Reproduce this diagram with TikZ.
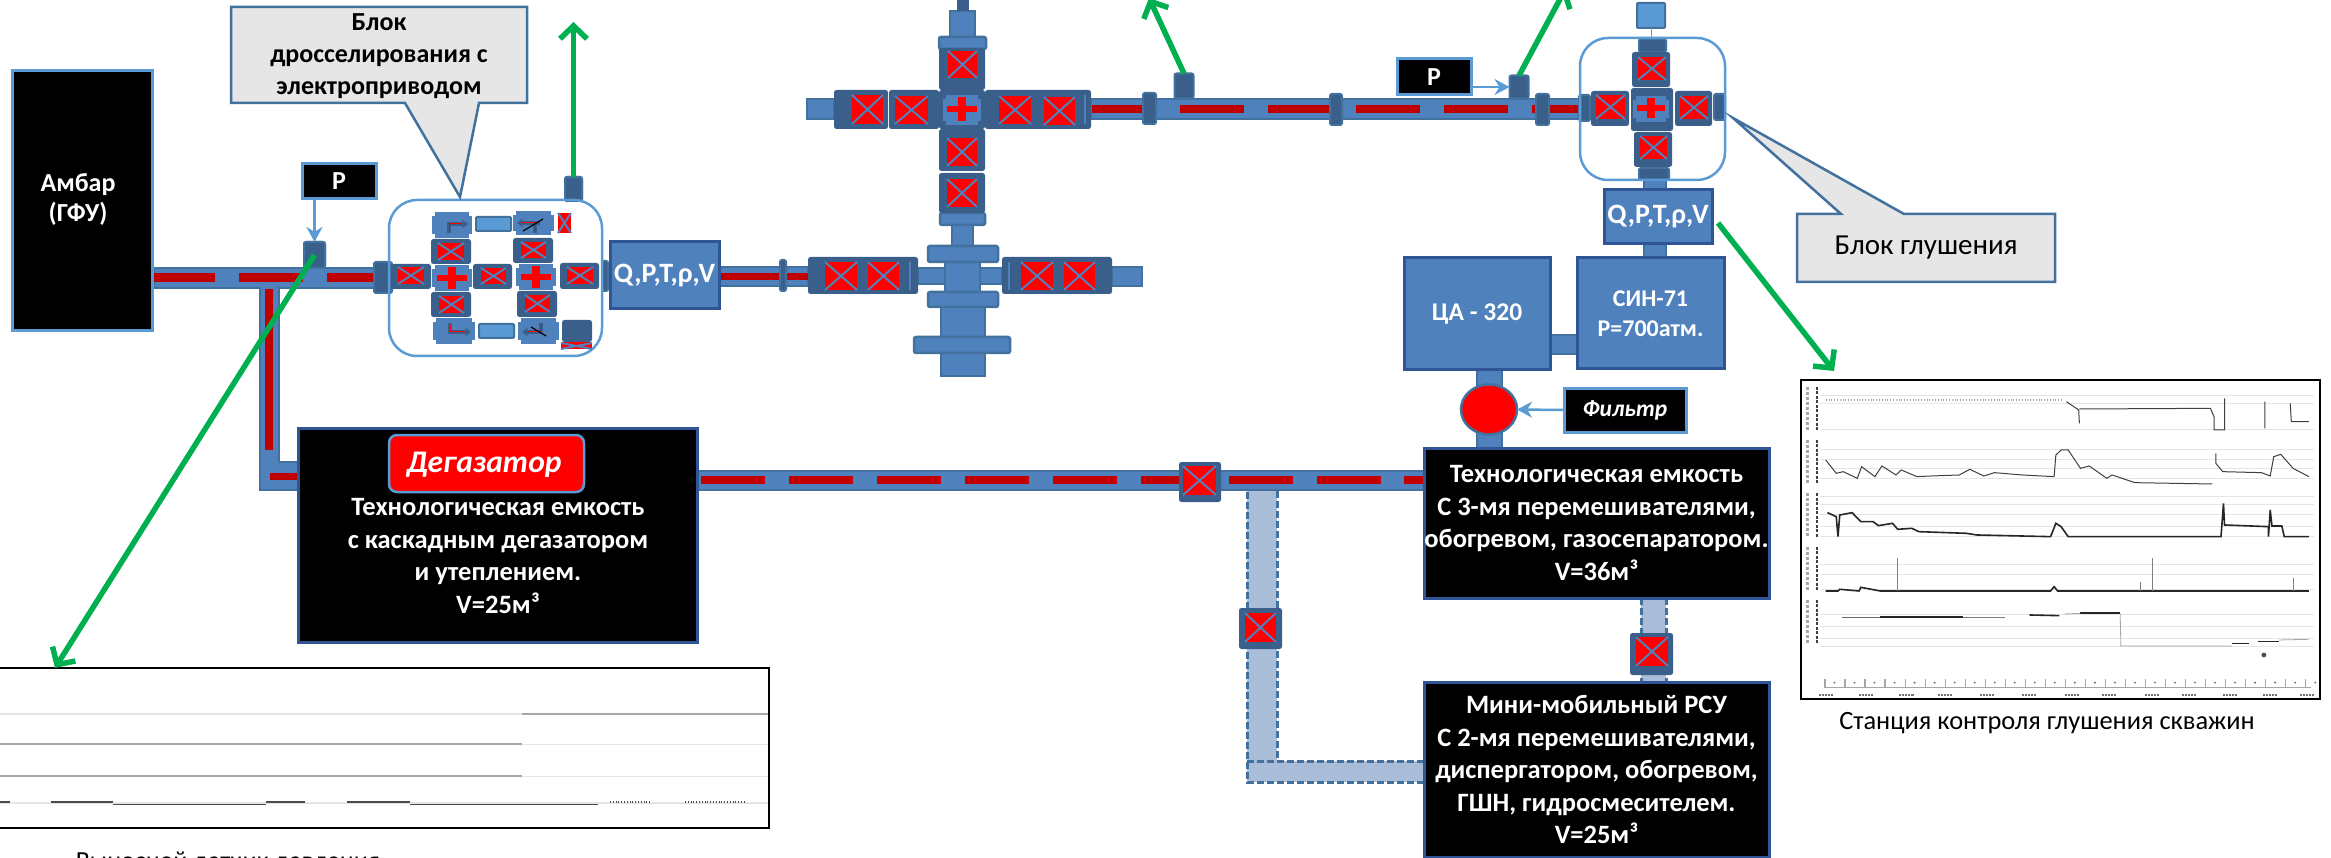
\documentclass[tikz,border=0pt]{standalone}
\usepackage{fontspec}
\usepackage{tikz}
\usetikzlibrary{arrows.meta}
\setmainfont{Carlito}

\definecolor{pipeblue}{HTML}{4F81BD}
\definecolor{pipeedge}{HTML}{41719C}
\definecolor{valvedark}{HTML}{3A5F8B}
\definecolor{lightedge}{HTML}{5B9BD5}
\definecolor{boxedge}{HTML}{2F5597}
\definecolor{darkred}{HTML}{C00000}
\definecolor{paleblue}{HTML}{A9BCD8}
\definecolor{arrowgreen}{HTML}{00B050}
\definecolor{calloutgray}{HTML}{E6E6E6}

\tikzset{
  every node/.style={inner sep=0pt,outer sep=0pt},
  pipe/.style={fill=pipeblue,draw=pipeedge,line width=2.5pt},
  palepipe/.style={fill=paleblue,draw=none},
  dashedge/.style={draw=pipeedge,line width=3pt,dash pattern=on 7pt off 3pt},
  dashline/.style={fill=darkred,draw=none},
  flange/.style={fill=valvedark,draw=pipeedge,line width=2pt,rounded corners=2pt},
  valvebody/.style={fill=valvedark,rounded corners=2.5pt},
  valvex/.style={draw=pipeblue,line width=2pt},
  lightblock/.style={fill=pipeblue},
  plain/.style={fill=lightedge,draw=pipeedge,line width=2pt,rounded corners=1pt},
  blockline/.style={draw=valvedark,line width=4pt},
  blockred/.style={draw=red,line width=1pt},
  slash/.style={draw=black,line width=1.2pt},
  unit/.style={rounded corners=28pt,draw=lightedge,line width=2.5pt},
  blackbox/.style={fill=black,draw=boxedge,line width=3pt,text=white,align=center,
    font=\bfseries\fontsize{26.5}{32.5}\selectfont},
  tagbox/.style={fill=black,draw=lightedge,line width=3pt,text=white,align=center,
    font=\bfseries\fontsize{26}{30}\selectfont},
  bluebox/.style={fill=pipeblue,draw=boxedge,line width=3pt,text=white,align=center,
    font=\bfseries\fontsize{28}{30}\selectfont},
  callout/.style={fill=calloutgray,draw=pipeedge,line width=2.5pt},
  green arrow/.style={draw=arrowgreen,line width=5.5pt,
    -{Straight Barb[length=13pt,width=27pt,line width=5.5pt]}},
  tag arrow/.style={draw=lightedge,line width=2.5pt,
    -{Stealth[length=15pt,width=16pt]}},
  plate/.style={fill=white,draw=black,line width=2pt},
  gridline/.style={draw=black!10,line width=1pt},
  trace/.style={draw=black!75,line width=1pt},
  heavy/.style={draw=black!85,line width=1.6pt},
  faint/.style={draw=black!35,line width=0.8pt}
}

\begin{document}
\begin{tikzpicture}[x=1pt,y=-1pt]
  \useasboundingbox (0,0) rectangle (2331,858);

  % Pipes
  \draw[pipe] (154,268) rectangle (375,288);
  \draw[pipe] (260,288) -- (260,490) -- (298,490) -- (298,462) -- (279,462) -- (279,288);
  \fill[pipeblue] (261,285) rectangle (278,289);
  \fill[pipeblue] (261,289) -- (261,489) -- (298,489) -- (298,463) -- (278,463) -- (278,289) -- cycle;
  \draw[pipe] (719,267) rectangle (808,286);
  \draw[pipe] (918,268) rectangle (1002,284);
  \draw[pipe] (1112,267) rectangle (1142,286);
  \draw[pipe] (1091,99) rectangle (1585,119);
  \draw[pipe] (807,99) rectangle (834,119);
  \draw[pipe] (697,471) rectangle (1424,490);
  \foreach \xa/\ya/\xb/\yb in {1644/180/1666/190,1644/244/1666/258,1550/335/1577/354,
      1477/370/1502/448,952/225/973/250,950/11/975/37,941/307/985/337,941/353/985/376,945/262/980/292} {
    \draw[pipe] (\xa,\ya) rectangle (\xb,\yb);
  }

  % Dashed pipes
  \fill[palepipe] (1247,491) rectangle (1277,782);
  \fill[palepipe] (1247,761) rectangle (1424,782);
  \fill[palepipe] (1641,598) rectangle (1666,682);
  \draw[dashedge] (1277,491) -- (1277,761) -- (1424,761);
  \draw[dashedge] (1424,782) -- (1247,782) -- (1247,491);
  \draw[dashedge] (1247,761) -- (1277,761);
  \draw[dashedge] (1641,598) -- (1641,682);
  \draw[dashedge] (1666,598) -- (1666,682);

  % Red dashes
  \foreach \xa/\xb in {152/215,239/303,327/374} {
    \fill[dashline] (\xa,273) rectangle (\xb,282);
  }
  \fill[dashline] (265,289) rectangle (273,450);
  \fill[dashline] (270,473) rectangle (298,480);
  \fill[dashline] (719,273) rectangle (780,280);
  \fill[dashline] (783,273) rectangle (808,280);
  \foreach \xa/\xb in {1092/1156,1180/1244,1268/1332,1356/1420,1444/1508,1532/1587} {
    \fill[dashline] (\xa,105) rectangle (\xb,113);
  }
  \foreach \xa in {701,789,877,965,1053,1141,1229,1317} {
    \fill[dashline] (\xa,476) rectangle (\xa+64,484);
  }
  \fill[dashline] (1404,476) rectangle (1424,484);

  % Flanges and stubs
  \foreach \xa/\ya/\xb/\yb in {374/262/392/293,602/261/608/291,780/260/786/291,
      1143/93/1156/124,1330/94/1342/125,1536/94/1549/125,1579/95/1590/121,1714/94/1725/120,
      1639/39/1666/52,1639/168/1669/180,304/242/325/268,565/177/582/201} {
    \draw[flange] (\xa,\ya) rectangle (\xb,\yb);
  }
  \foreach \xa/\ya/\xb/\yb in {928/246/998/262,928/292/998/307,914/337/1010/353,
      940/213/985/225,939/37/986/49} {
    \draw[pipe,rounded corners=2pt] (\xa,\ya) rectangle (\xb,\yb);
  }
  \fill[valvedark] (957,0) rectangle (969,11);
  \node[flange,minimum width=19pt,minimum height=25pt] (stuba) at (1184,86) {};
  \node[flange,minimum width=19pt,minimum height=23pt] (stubb) at (1519,87) {};
  \node[flange,minimum width=21pt,minimum height=26pt] (stubc) at (314.5,255) {};
  \node[flange,minimum width=17pt,minimum height=24pt] (stubd) at (573.5,189) {};

  % Valve units
  \draw[unit] (389,200) rectangle (602,356);
  \draw[unit] (1580,38) rectangle (1725,180);

  % Valves
  \foreach \xa/\ya/\xb/\yb/\xc/\yc/\xd/\yd in {
      391/264/431/289/398/267/424/284, 431/239/471/264/438/243/464/260,
      431/292/471/317/439/296/464/313, 473/264/512/289/481/268/506/284,
      513/238/553/263/521/242/546/258, 517/291/557/317/525/295/550/312,
      560/263/599/289/567/267/593/284,
      939/173/985/213/947/179/977/207, 939/129/985/171/947/138/977/166,
      939/48/985/90/948/51/977/78,
      1632/52/1670/87/1638/57/1666/80, 1591/91/1629/126/1596/95/1625/119,
      1675/91/1712/126/1680/96/1708/119, 1634/132/1672/167/1640/136/1667/159,
      1179/462/1221/502/1183/466/1216/495, 1239/608/1282/649/1245/613/1276/642,
      1630/633/1673/675/1636/637/1668/666} {
    \fill[valvebody] (\xa,\ya) rectangle (\xb,\yb);
    \fill[red] (\xc,\yc) rectangle (\xd,\yd);
    \draw[valvex] (\xc,\yc) -- (\xd,\yd) (\xc,\yd) -- (\xd,\yc);
  }

  % Double valves
  \foreach \xa/\ya/\xb/\yb in {808/257/918/294,1002/257/1112/294,834/90/888/129,889/90/939/129,985/90/1091/129} {
    \fill[valvebody] (\xa,\ya) rectangle (\xb,\yb);
  }
  \foreach \xc/\yc/\xd/\yd in {825/262/857/290,868/262/899/290,1021/262/1053/290,1064/262/1095/290,
      852/95/883/124,895/96/928/124,999/96/1031/124,1044/97/1075/125} {
    \fill[red] (\xc,\yc) rectangle (\xd,\yd);
    \draw[valvex] (\xc,\yc) -- (\xd,\yd) (\xc,\yd) -- (\xd,\yc);
  }
  \draw[valvex,line width=1.5pt] (910,262) -- (910,290);
  \draw[valvex,line width=1.5pt] (1009,262) -- (1009,290);
  \draw[valvex,line width=1.5pt] (1085,95) -- (1085,124);
  \fill[red] (558,213) rectangle (571,233);
  \draw[valvex] (558,213) -- (571,233) (558,233) -- (571,213);
  \fill[valvebody] (562,320) rectangle (592,342);
  \fill[red] (561,342) rectangle (592,349);
  \draw[valvex] (561,343) -- (592,349) (561,349) -- (592,343);

  % Crosses
  \fill[valvebody] (939,90) rectangle (985,129);
  \fill[valvebody] (1631,88) rectangle (1673,131);
  \foreach \xa/\ya/\xb/\yb in {432/265/472/291,516/264/556/290,943/95/981/125,1633/96/1669/122,
      432/212/472/238,513/211/554/235,433/318/475/344,518/318/559/344} {
    \fill[lightblock] (\xa+3,\ya) rectangle (\xb-3,\yb);
    \fill[lightblock] (\xa,\ya+4) rectangle (\xb,\yb-4);
  }
  \foreach \xm/\ym/\w/\h in {452/278/15/11,536/277/15/11,962/109/15/12,1651/108/14/10} {
    \fill[red] (\xm-\w,\ym-3) rectangle (\xm+\w,\ym+3);
    \fill[red] (\xm-4,\ym-\h) rectangle (\xm+4,\ym+\h);
  }

  % Corner pieces
  \draw[blockline,-{Stealth[length=6pt,width=9pt]}] (449,233) -- (449,224) -- (468,224);
  \draw[blockred] (449,231) -- (449,224) -- (462,224);
  \draw[blockline,-{Stealth[length=6pt,width=9pt]}] (540,223) -- (517,223);
  \draw[blockline] (535,223) -- (535,233);
  \draw[blockred] (536,223) -- (522,223) (535,223) -- (535,232);
  \draw[slash] (523,231) -- (543,219);
  \draw[blockline,-{Stealth[length=6pt,width=9pt]}] (450,323) -- (450,332) -- (471,332);
  \draw[blockred] (450,325) -- (450,332) -- (465,332);
  \draw[blockline,-{Stealth[length=6pt,width=9pt]}] (541,332) -- (522,332);
  \draw[blockline] (541,332) -- (541,323);
  \draw[blockred] (541,332) -- (527,332) (541,332) -- (541,324);
  \draw[slash] (531,327) -- (546,336);
  \foreach \xa/\ya/\xb/\yb in {476/217/511/231,479/324/514/338,1637/3/1665/28} {
    \draw[plain] (\xa,\ya) rectangle (\xb,\yb);
  }
  \draw[lightedge,line width=1pt] (1651,28) -- (1651,39);

  % Filter
  \node[circle,fill=red,draw=pipeedge,line width=2.5pt,minimum size=50pt,xscale=1.12] (filter) at (1489,409.5) {};

  % Boxes
  \node[tagbox,minimum width=140pt,minimum height=260pt] (ambar) at (82,201) {};
  \node[text=white,align=center,font=\bfseries\fontsize{26}{30}\selectfont] (ambartext) at (78,200) {Амбар\\(ГФУ)};
  \node[tagbox,minimum width=74pt,minimum height=35pt] (pleft) at (339,181.5) {P};
  \node[tagbox,minimum width=74pt,minimum height=36pt] (pright) at (1434,77) {P};
  \node[tagbox,minimum width=122pt,minimum height=44pt,font=\bfseries\itshape\fontsize{23.5}{26}\selectfont] (filtertag) at (1625,410) {Фильтр};
  \node[bluebox,minimum width=109pt,minimum height=67pt] (qleft) at (664.5,275.5) {Q,P,T,ρ,V};
  \node[bluebox,minimum width=108pt,minimum height=54pt] (qright) at (1658,217) {Q,P,T,ρ,V};
  \node[bluebox,minimum width=146pt,minimum height=112pt,font=\bfseries\fontsize{25.5}{30}\selectfont] (tsa) at (1477,314) {ЦА - 320};
  \node[bluebox,minimum width=147pt,minimum height=111pt,font=\bfseries\fontsize{24}{30}\selectfont] (sin) at (1650.5,313.5) {СИН-71\\P=700атм.};

  \node[blackbox,minimum width=399pt,minimum height=214pt] (degasbox) at (497.5,535) {};
  \node[text=white,align=center,font=\bfseries\fontsize{26.5}{32.5}\selectfont] (degastext) at (498,556) {Технологическая емкость\\с каскадным дегазатором\\и утеплением.\\V=25м³};
  \node[fill=red,draw=lightedge,line width=2.5pt,rounded corners=8pt,minimum width=195pt,minimum height=57pt] (degastag) at (486.5,463.5) {};
  \node[text=white,font=\bfseries\itshape\fontsize{31.5}{36}\selectfont] (degasname) at (484,465) {Дегазатор};
  \node[blackbox,minimum width=345pt,minimum height=150pt] (tank) at (1596.5,523) {Технологическая емкость\\С 3-мя перемешивателями,\\обогревом, газосепаратором.\\V=36м³};
  \node[blackbox,minimum width=345pt,minimum height=175pt] (mixer) at (1596.5,769.5) {Мини-мобильный РСУ\\С 2-мя перемешивателями,\\диспергатором, обогревом,\\ГШН, гидросмесителем.\\V=25м³};

  % Callouts
  \draw[callout] (231,7) -- (527,7) -- (527,103) -- (479,103) -- (460,197) -- (405,103) -- (231,103) -- cycle;
  \node[align=center,font=\bfseries\fontsize{26}{32}\selectfont] (blockdross) at (379,56) {Блок\\дросселирования с\\электроприводом};
  \draw[callout] (1797,214) -- (1841,214) -- (1733,118) -- (1904,214) -- (2055,214) -- (2055,282) -- (1797,282) -- cycle;
  \node[font=\fontsize{29}{32}\selectfont] (blockkill) at (1926,248) {Блок глушения};

  % Left chart
  \draw[plate] (-5,668) rectangle (769,828);
  \draw[gridline,line width=2pt] (0,714) -- (522,714);
  \draw[faint,line width=1.5pt] (522,714) -- (768,714);
  \draw[faint,line width=1.5pt] (0,744) -- (522,744);
  \draw[faint,line width=1.5pt] (0,776) -- (522,776);
  \draw[gridline] (522,744) -- (768,744);
  \draw[gridline] (522,776) -- (768,776);
  \draw[gridline,line width=2pt] (0,803) -- (768,803);
  \foreach \xa/\xb/\yy in {0/10/802,51/113/802,113/266/804.5,266/305/802,347/410/802,410/598/804.5} {
    \draw[heavy,draw=black!70] (\xa,\yy) -- (\xb,\yy);
  }
  \draw[faint,dotted,line width=1.5pt,draw=black!70] (610,802) -- (650,802) (685,802) -- (745,802);
  \node[anchor=base,font=\fontsize{26}{32}\selectfont] (chartleftname) at (228,869) {Выносной датчик давления};

  % Right chart
  \draw[plate] (1801,380) rectangle (2320,699);
  \begin{scope}[shift={(1780,360)},x=0.3514pt,y=-0.3333pt]
    \foreach \yy in {108,130,210,270,300,325,355,410,435,465,500,530,615,645,690,765,800,835,860} {
      \draw[gridline] (115,\yy) -- (1520,\yy);
    }
    \draw[faint,dotted,line width=1.5pt] (130,120) -- (800,120);
    \draw[trace] (815,125) -- (850,150) -- (852,190) (852,147) -- (1225,145) -- (1235,170) -- (1235,210) -- (1265,210) -- (1265,115);
    \draw[trace] (1380,125) -- (1380,205) (1452,130) -- (1455,185) -- (1505,185);
    \draw[trace] (130,300) -- (160,340) -- (180,335) -- (220,355) -- (232,320) -- (270,350) -- (290,318) -- (330,345) -- (345,330) -- (390,350) -- (430,348) -- (510,345) -- (540,328) -- (580,348) -- (610,338) -- (690,345) -- (780,350) -- (785,285) -- (800,270) -- (820,270) -- (855,325) -- (880,318) -- (930,355) -- (945,345) -- (1010,368) -- (1230,372);
    \draw[trace] (1240,280) -- (1240,310) -- (1260,335) -- (1370,338) -- (1395,348) -- (1405,290) -- (1425,283) -- (1460,325) -- (1505,350);
    \draw[heavy] (135,458) -- (160,470) -- (165,530) -- (170,465) -- (205,458) -- (230,485) -- (265,485) -- (280,497) -- (320,490) -- (335,508) -- (375,505) -- (395,515) -- (530,520) -- (560,525) -- (770,530) -- (785,490) -- (800,500) -- (820,530) -- (1255,530) -- (1262,430) -- (1265,495) -- (1390,500) -- (1390,530) -- (1395,450) -- (1400,498) -- (1428,498) -- (1435,530) -- (1505,530);
    \draw[heavy] (130,693) -- (165,693) -- (170,688) -- (225,693) -- (230,682) -- (285,693) -- (333,693) -- (770,693) -- (780,680) -- (790,693) -- (1505,693);
    \draw[trace,draw=black!50] (333,693) -- (333,595) (1060,693) -- (1060,595) (1025,693) -- (1025,665) (1460,693) -- (1460,655);
    \draw[heavy,draw=black!60] (175,772) -- (285,772);
    \draw[heavy,line width=2pt] (285,772) -- (520,772);
    \draw[trace,draw=black!50] (520,772) -- (640,772);
    \draw[heavy] (710,765) -- (795,767);
    \draw[heavy,line width=2pt] (855,760) -- (968,760);
    \draw[faint] (810,762) -- (855,760) (968,760) -- (970,858) -- (1285,858);
    \draw[heavy] (1285,850) -- (1335,850) (1360,845) -- (1420,845);
    \draw[faint] (1420,840) -- (1505,838);
    \fill[black!70] (1377,885) circle (7);
    % Axis marks
    \foreach \ya/\yb in {80/210,240/370,400/530,560/695,720/855} {
      \draw[faint,line width=3pt,dash pattern=on 3pt off 2pt] (78,\ya) -- (78,\yb);
      \draw[trace,line width=1.5pt,dash pattern=on 3pt off 1.5pt] (105,\ya) -- (105,\yb);
    }
    % Time scale
    \draw[faint,line width=1.5pt] (125,983) -- (1510,983);
    \foreach \xx in {128,185,...,1510} {
      \draw[faint,line width=1.2pt] (\xx,958) -- (\xx,983);
      \fill[black!60] (\xx+27,968) circle (3);
    }
    \foreach \xx in {130,245,360,470,590,710,830,935,1060,1165,1280,1395,1500} {
      \draw[black!55,line width=2.5pt,dash pattern=on 2pt off 1pt] (\xx-20,1005) -- (\xx+20,1005);
    }
  \end{scope}
  \node[font=\fontsize{26.4}{32}\selectfont] (chartrightname) at (2047,723) {Станция контроля глушения скважин};

  % Connectors
  \draw[tag arrow] (pleft.south -| stubc.north) -- (stubc.north);
  \draw[tag arrow] (pright.east |- stubb.west) -- (stubb.west);
  \draw[tag arrow] (filtertag.west) -- (filter.east);
  \coordinate (upa) at (573.5,22);
  \coordinate (upb) at (1149,-2);
  \coordinate (upc) at (1566,-12);
  \coordinate (chartleft) at (55,668);
  \coordinate (chartright) at (1834,371);
  \coordinate (fromq) at (1718,223);
  \draw[green arrow] (stubd.north) -- (upa);
  \draw[green arrow] (stuba.north) -- (upb);
  \draw[green arrow] (stubb.north) -- (upc);
  \draw[green arrow] (stubc.center) -- (chartleft);
  \draw[green arrow] (fromq) -- (chartright);
\end{tikzpicture}
\end{document}
